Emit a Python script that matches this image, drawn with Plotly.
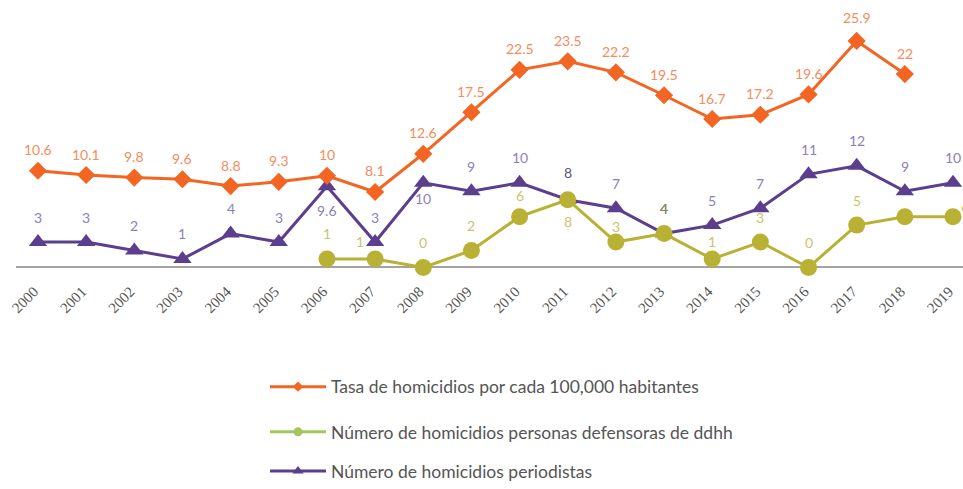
import plotly.graph_objects as go

# ---------------- data ----------------
years = [2000, 2001, 2002, 2003, 2004, 2005, 2006, 2007, 2008, 2009,
         2010, 2011, 2012, 2013, 2014, 2015, 2016, 2017, 2018, 2019]
tasa_homicidios = [10.6, 10.1, 9.8, 9.6, 8.8, 9.3, 10, 8.1, 12.6, 17.5,
                   22.5, 23.5, 22.2, 19.5, 16.7, 17.2, 19.6, 25.9, 22, None]
defensoras = [None, None, None, None, None, None, 1, 1, 0, 2,
              6, 8, 3, 4, 1, 3, 0, 5, 6, 6]
periodistas = [3, 3, 2, 1, 4, 3, 9.6, 3, 10, 9,
               10, 8, 7, 4, 5, 7, 11, 12, 9, 10]
tick_labels = [str(y) for y in years]
legend_names = ["Tasa de homicidios por cada 100,000 habitantes",
                "Número de homicidios personas defensoras de ddhh",
                "Número de homicidios periodistas"]

# ---------------- style ----------------
W, H = 963, 489
ML, PB = 16, 290          # left margin, plot-area bottom (px)
X0PX, X1PX = 38, 953      # pixel positions of first / last year
ppy = (X1PX - X0PX) / (years[-1] - years[0])
xr = [years[0] - (X0PX - ML) / ppy, years[-1] + (W - X1PX) / ppy]
Z1, S1 = 278, 8.8         # count axis: zero pixel, px per unit
Z2, S2 = 271, 8.82        # rate axis
yr1 = [-(PB - Z1) / S1, Z1 / S1]
yr2 = [-(PB - Z2) / S2, Z2 / S2]

ORANGE, ORANGE_T = "#F26522", "#F58C5E"
PURPLE, PURPLE_T = "#5B3F8E", "#8E7EB8"
OLIVE, OLIVE_T = "#B9B133", "#C9C46E"
LEG_GREEN = "#A2C760"
LABEL_FONT = "Lato"

fig = go.Figure()

fig.add_trace(go.Scatter(x=years, y=tasa_homicidios, yaxis="y2", mode="lines+markers",
                         line=dict(color=ORANGE, width=3),
                         marker=dict(symbol="diamond", size=14, color=ORANGE),
                         cliponaxis=False, showlegend=False, hoverinfo="skip"))
fig.add_trace(go.Scatter(x=years, y=periodistas, mode="lines+markers",
                         line=dict(color=PURPLE, width=3),
                         marker=dict(symbol="triangle-up", size=16, color=PURPLE),
                         cliponaxis=False, showlegend=False, hoverinfo="skip"))
fig.add_trace(go.Scatter(x=years, y=defensoras, mode="lines+markers",
                         line=dict(color=OLIVE, width=3),
                         marker=dict(symbol="circle", size=17, color=OLIVE),
                         cliponaxis=False, showlegend=False, hoverinfo="skip"))

# legend-only traces
leg_specs = [(ORANGE, "diamond", 8, "legend"),
             (LEG_GREEN, "circle", 9, "legend2"),
             (PURPLE, "triangle-up", 10, "legend3")]
for name, (c, sym, sz, lg) in zip(legend_names, leg_specs):
    fig.add_trace(go.Scatter(x=[None], y=[None], mode="lines+markers", name=name,
                             line=dict(color=c, width=3),
                             marker=dict(symbol=sym, size=sz, color=c),
                             legend=lg, showlegend=True))

def fmt(v):
    return ("%g" % v)

annotations = []
def add_labels(vals, yref, color, default_shift, special, hidden=()):
    for yv, v in zip(years, vals):
        if v is None or yv in hidden:
            continue
        dx, dy, col = special.get(yv, (0, default_shift, color))
        annotations.append(dict(x=yv, y=v, xref="x", yref=yref, text=fmt(v),
                                showarrow=False, xshift=dx, yshift=dy,
                                font=dict(family=LABEL_FONT, size=14, color=col)))

add_labels(tasa_homicidios, "y2", ORANGE_T, 21, {2017: (0, 23, ORANGE_T)})
add_labels(periodistas, "y", PURPLE_T, 25,
           {2006: (0, -24, PURPLE_T), 2008: (0, -16, PURPLE_T),
            2011: (0, 27, "#5E5182")})
add_labels(defensoras, "y", OLIVE_T, 25,
           {2007: (-15, 17, OLIVE_T), 2010: (0, 21, OLIVE_T),
            2011: (0, -22, OLIVE_T), 2012: (0, 16, OLIVE_T),
            2013: (0, 25, "#8C8856"), 2014: (0, 17, OLIVE_T),
            2019: (12, 10, OLIVE_T)},
           hidden=(2018,))

pw = W - ML
def lx(px):
    return (px - ML) / pw
def ly(py):
    return (PB - py) / PB

leg_common = dict(xanchor="left", yanchor="middle", bgcolor="rgba(0,0,0,0)",
                  font=dict(family="Lato", size=17.5, color="#555555"),
                  itemwidth=56)
fig.update_layout(
    width=W, height=H,
    margin=dict(l=ML, r=0, t=0, b=H - PB),
    paper_bgcolor="white", plot_bgcolor="white",
    xaxis=dict(range=xr, tickmode="array", tickvals=years, ticktext=tick_labels,
               tickangle=-45, showgrid=False, zeroline=False, showline=False,
               ticks="", automargin=False, ticklabelstandoff=0, ticklabelshift=-4,
               tickfont=dict(family="Liberation Serif", size=15, color="#555555")),
    yaxis=dict(range=yr1, visible=True, showgrid=False, showticklabels=False,
               zeroline=True, zerolinecolor="#A3A3A3", zerolinewidth=2,
               ticks="", showline=False),
    yaxis2=dict(range=yr2, overlaying="y", visible=False),
    legend=dict(x=lx(265), y=ly(402), **leg_common),
    legend2=dict(x=lx(265), y=ly(449), **leg_common),
    legend3=dict(x=lx(265), y=ly(490), **leg_common),
    annotations=annotations,
    showlegend=True,
)

fig.write_html("out.html", config={"displayModeBar": False},
               post_script="document.body.style.margin='0';"
                           "document.body.style.overflow='hidden';")
